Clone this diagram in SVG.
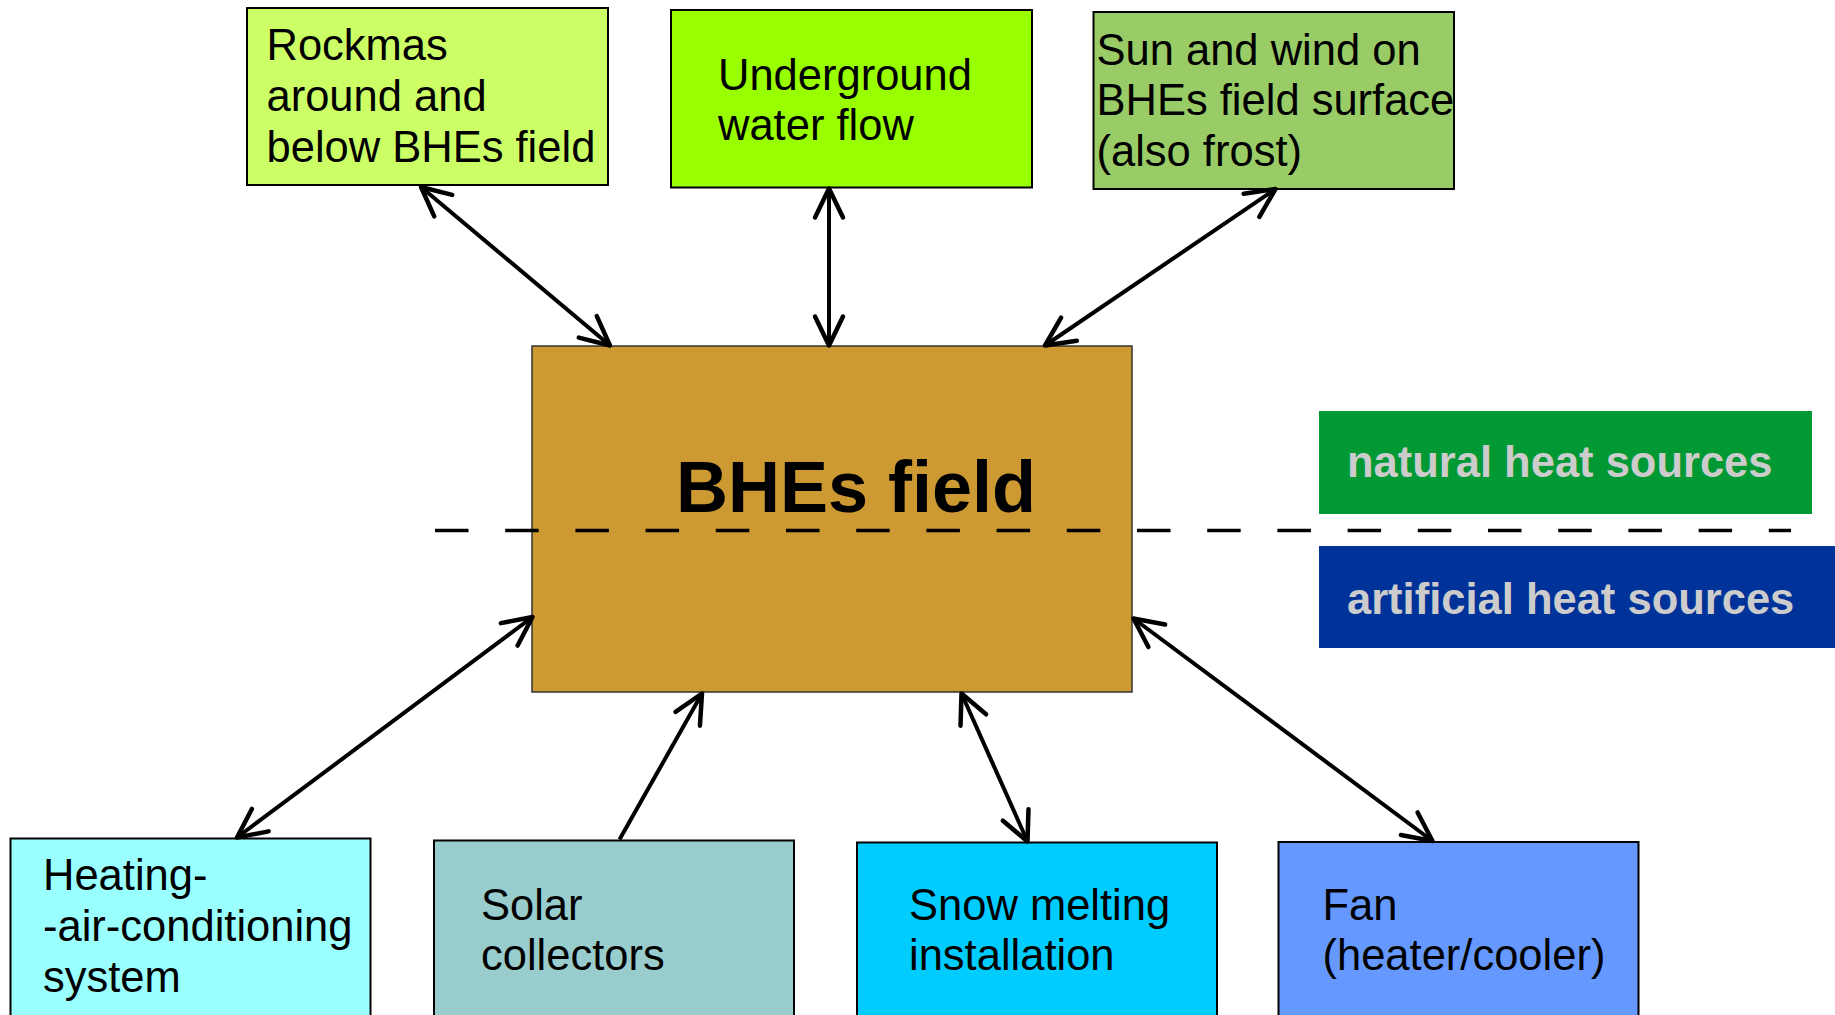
<svg xmlns="http://www.w3.org/2000/svg" width="1835" height="1015" viewBox="0 0 1835 1015">
<style>
.box{stroke:#000;stroke-width:2}
.t{font-family:"Liberation Sans",Arial,sans-serif;font-size:43.5px;fill:#000}
.leg{font-family:"Liberation Sans",Arial,sans-serif;font-size:43.5px;font-weight:bold;fill:#CCCCCC}
.conn{stroke:#000;stroke-width:4;fill:none}
</style>
<defs>
<marker id="ah" markerUnits="userSpaceOnUse" markerWidth="40" markerHeight="40" viewBox="-34 -20 40 40" refX="0" refY="0" orient="auto-start-reverse">
<path d="M-29,-14 L0,0 L-29,14" fill="none" stroke="#000" stroke-width="4.5" stroke-linecap="round" stroke-linejoin="round"/>
</marker>
</defs>
<rect width="1835" height="1015" fill="#fff"/>

<g id="legend-natural">
<rect x="1319" y="411" width="493" height="103" fill="#009933"/>
<text class="leg" x="1347" y="477">natural heat sources</text>
</g>
<g id="legend-artificial">
<rect x="1319" y="546" width="516" height="102" fill="#003399"/>
<text class="leg" x="1347" y="614">artificial heat sources</text>
</g>

<g id="bhes-field">
<rect x="532" y="346" width="600" height="346" fill="#CC9933" stroke="#333" stroke-width="1.5"/>
<text x="676" y="512" font-family="Liberation Sans, Arial, sans-serif" font-size="72" font-weight="bold" fill="#000">BHEs field</text>
</g>

<line id="divider" x1="435" y1="530.5" x2="1791" y2="530.5" stroke="#000" stroke-width="3.5" stroke-dasharray="33.5 36.7"/>

<g id="rockmass">
<rect class="box" x="247" y="8" width="361" height="177" fill="#CCFF66"/>
<text class="t" x="266.5" y="60">Rockmas</text>
<text class="t" x="266.5" y="111">around and</text>
<text class="t" x="266.5" y="161.5">below BHEs field</text>
</g>
<g id="groundwater">
<rect class="box" x="671" y="10" width="361" height="177.5" fill="#99FF00"/>
<text class="t" x="718" y="89.5">Underground</text>
<text class="t" x="718" y="140">water flow</text>
</g>
<g id="sun-wind">
<rect class="box" x="1093.5" y="12" width="360.5" height="177" fill="#99CC66"/>
<text class="t" x="1096.5" y="64.5">Sun and wind on</text>
<text class="t" x="1096.5" y="115">BHEs field surface</text>
<text class="t" x="1096.5" y="165.5">(also frost)</text>
</g>

<g id="hvac">
<rect class="box" x="10.5" y="838.5" width="360" height="190" fill="#99FFFF"/>
<text class="t" x="43" y="890">Heating-</text>
<text class="t" x="43" y="940.5">-air-conditioning</text>
<text class="t" x="43" y="991.5">system</text>
</g>
<g id="solar">
<rect class="box" x="434" y="840.5" width="360" height="190" fill="#99CCCC"/>
<text class="t" x="481" y="919.5">Solar</text>
<text class="t" x="481" y="970">collectors</text>
</g>
<g id="snow">
<rect class="box" x="857" y="842.5" width="360" height="190" fill="#00CCFF"/>
<text class="t" x="909" y="919.5">Snow melting</text>
<text class="t" x="909" y="970">installation</text>
</g>
<g id="fan">
<rect class="box" x="1278.5" y="842" width="360" height="190" fill="#6699FF"/>
<text class="t" x="1322.5" y="919.5">Fan</text>
<text class="t" x="1322.5" y="970">(heater/cooler)</text>
</g>

<g id="connectors">
<line class="conn" x1="421" y1="187" x2="610" y2="345.5" marker-start="url(#ah)" marker-end="url(#ah)"/>
<line class="conn" x1="829" y1="188.5" x2="829" y2="345.5" marker-start="url(#ah)" marker-end="url(#ah)"/>
<line class="conn" x1="1275.5" y1="189" x2="1045" y2="345.5" marker-start="url(#ah)" marker-end="url(#ah)"/>
<line class="conn" x1="532.5" y1="617" x2="237" y2="837.5" marker-start="url(#ah)" marker-end="url(#ah)"/>
<line class="conn" x1="619.5" y1="839.5" x2="702" y2="693.5" marker-end="url(#ah)"/>
<line class="conn" x1="961.5" y1="693.5" x2="1027.5" y2="841.5" marker-start="url(#ah)" marker-end="url(#ah)"/>
<line class="conn" x1="1133.5" y1="618.5" x2="1432.5" y2="841" marker-start="url(#ah)" marker-end="url(#ah)"/>
</g>
</svg>
